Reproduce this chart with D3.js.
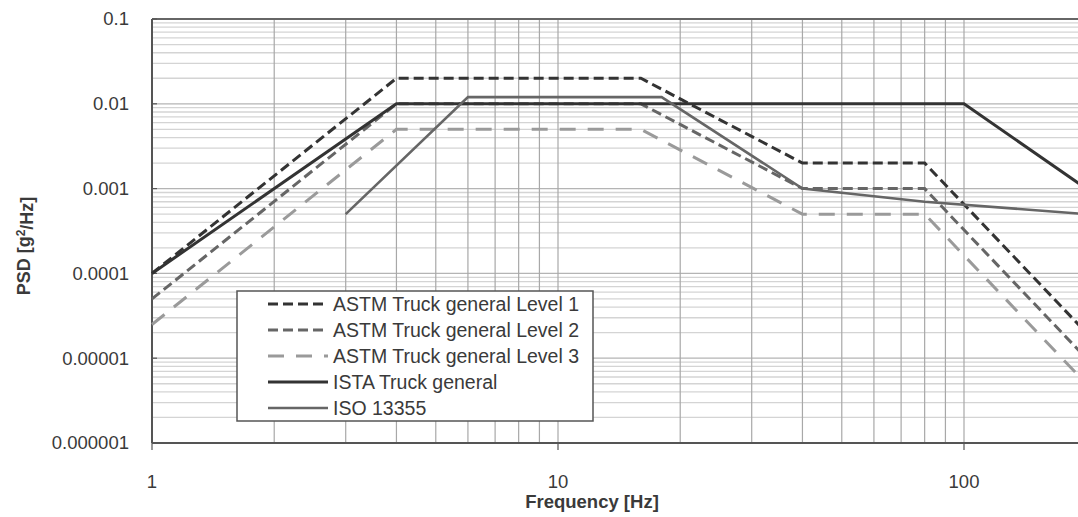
<!DOCTYPE html>
<html>
<head>
<meta charset="utf-8">
<script src="https://cdn.jsdelivr.net/npm/d3@7"></script>
<style>
  body { margin: 0; background: #fff; }
  text { font-family: "Liberation Sans", Arial, sans-serif; fill: #3a3a3a; }
</style>
</head>
<body>
<script>
// ASTM D4169 truck levels, ISTA truck, ISO 13355 (Hz / g^2/Hz)
var freqASTM = [1, 4, 16, 40, 80, 200];
var astmLevel1 = [0.0001, 0.02, 0.02, 0.002, 0.002, 0.00002];
var astmLevel2 = [0.00005, 0.01, 0.01, 0.001, 0.001, 0.00001];
var astmLevel3 = [0.000025, 0.005, 0.005, 0.0005, 0.0005, 0.000005];
var freqISTA = [1, 4, 100, 200];
var istaTruck = [0.0001, 0.01, 0.01, 0.001];
var freqISO = [3, 6, 18, 40, 80, 200];
var iso13355 = [0.0005, 0.012, 0.012, 0.001, 0.0007, 0.0005];

var seriesNames = ["ASTM Truck general Level 1", "ASTM Truck general Level 2",
    "ASTM Truck general Level 3", "ISTA Truck general", "ISO 13355"];
var xTicks = [1, 10, 100];
var xTickLabels = ["1", "10", "100"];
var yTicks = [0.1, 0.01, 0.001, 0.0001, 0.00001, 0.000001];
var yTickLabels = ["0.1", "0.01", "0.001", "0.0001", "0.00001", "0.000001"];

var width = 1078;
var height = 517;
var margin = { top: 19, left: 152, bottom: 74 };

var svg = d3.select("body")
    .append("svg")
    .attr("width", width)
    .attr("height", height);

// plot runs to 200 Hz, a bit past the right edge of the picture
var x = d3.scaleLog()
    .domain([1, 200])
    .range([margin.left, margin.left + 406 * Math.log10(200)]);
var y = d3.scaleLog()
    .domain([0.000001, 0.1])
    .range([height - margin.bottom, margin.top]);

var x0 = x.range()[0], x1 = x.range()[1];
var y0 = y.range()[0], y1 = y.range()[1];

function isDecade(v) {
    var l = Math.log10(v);
    return Math.abs(l - Math.round(l)) < 1e-9;
}

// horizontal grid
svg.append("g")
    .selectAll("line")
    .data(y.ticks())
    .enter()
    .append("line")
    .attr("x1", x0).attr("x2", x1)
    .attr("y1", function(d) { return y(d); })
    .attr("y2", function(d) { return y(d); })
    .attr("stroke", function(d) { return isDecade(d) ? "#b4b4b4" : "#d4d4d4"; })
    .attr("stroke-width", 1.3);

// vertical grid
svg.append("g")
    .selectAll("line")
    .data(x.ticks())
    .enter()
    .append("line")
    .attr("x1", function(d) { return x(d); })
    .attr("x2", function(d) { return x(d); })
    .attr("y1", y1).attr("y2", y0)
    .attr("stroke", "#a8a8a8")
    .attr("stroke-width", 1.2);

// frame
svg.append("line").attr("x1", x0).attr("x2", x1).attr("y1", y1).attr("y2", y1)
    .attr("stroke", "#666").attr("stroke-width", 2);
svg.append("line").attr("x1", x0).attr("x2", x1).attr("y1", y0).attr("y2", y0)
    .attr("stroke", "#555").attr("stroke-width", 2);
svg.append("line").attr("x1", x0).attr("x2", x0).attr("y1", y1).attr("y2", y0)
    .attr("stroke", "#555").attr("stroke-width", 2);

// ticks
svg.append("g").selectAll("line").data(xTicks).enter().append("line")
    .attr("x1", function(d) { return x(d); })
    .attr("x2", function(d) { return x(d); })
    .attr("y1", y0).attr("y2", y0 + 7)
    .attr("stroke", "#555").attr("stroke-width", 1.2);
svg.append("g").selectAll("line").data(yTicks).enter().append("line")
    .attr("x1", x0).attr("x2", x0 + 5)
    .attr("y1", function(d) { return y(d); })
    .attr("y2", function(d) { return y(d); })
    .attr("stroke", "#555").attr("stroke-width", 1.2);

// tick labels
svg.append("g").selectAll("text").data(xTicks).enter().append("text")
    .attr("x", function(d) { return x(d); })
    .attr("y", y0 + 45)
    .attr("text-anchor", "middle")
    .style("font-size", "18.5px")
    .text(function(d, i) { return xTickLabels[i]; });
svg.append("g").selectAll("text").data(yTicks).enter().append("text")
    .attr("x", 129)
    .attr("y", function(d) { return y(d); })
    .attr("dy", "0.35em")
    .attr("text-anchor", "end")
    .style("font-size", "18.5px")
    .text(function(d, i) { return yTickLabels[i]; });

// axis titles
svg.append("text")
    .attr("x", 592).attr("y", 508)
    .attr("text-anchor", "middle")
    .style("font-size", "18.5px").style("font-weight", "bold")
    .text("Frequency [Hz]");
var yt = svg.append("text")
    .attr("transform", "translate(30,246) rotate(-90)")
    .attr("text-anchor", "middle")
    .style("font-size", "18px").style("font-weight", "bold");
yt.append("tspan").text("PSD [g");
yt.append("tspan").attr("dy", "-0.45em").style("font-size", "12px").text("2");
yt.append("tspan").attr("dy", "0.45em").text("/Hz]");

// series
var series = [
    { name: seriesNames[0], f: freqASTM, v: astmLevel1, color: "#333", dash: "10,5", w: 3 },
    { name: seriesNames[1], f: freqASTM, v: astmLevel2, color: "#666", dash: "10,5", w: 3 },
    { name: seriesNames[2], f: freqASTM, v: astmLevel3, color: "#9a9a9a", dash: "16,12", w: 3 },
    { name: seriesNames[3], f: freqISTA, v: istaTruck, color: "#333", dash: null, w: 3 },
    { name: seriesNames[4], f: freqISO, v: iso13355, color: "#666", dash: null, w: 2.6 }
];

var line = d3.line()
    .x(function(d) { return x(d[0]); })
    .y(function(d) { return y(d[1]); });

svg.append("g")
    .selectAll("path")
    .data(series)
    .enter()
    .append("path")
    .attr("fill", "none")
    .attr("stroke", function(d) { return d.color; })
    .attr("stroke-width", function(d) { return d.w; })
    .attr("stroke-dasharray", function(d) { return d.dash; })
    .attr("d", function(d) { return line(d3.zip(d.f, d.v)); });

// legend
var legend = svg.append("g");
legend.append("rect")
    .attr("x", 237).attr("y", 291)
    .attr("width", 356).attr("height", 130)
    .attr("fill", "#fff")
    .attr("stroke", "#555")
    .attr("stroke-width", 1.5);

var leg = legend.selectAll("g.leg")
    .data(series)
    .enter()
    .append("g")
    .attr("class", "leg")
    .attr("transform", function(d, i) { return "translate(0," + (304 + i * 26) + ")"; });
leg.append("line")
    .attr("x1", 268).attr("x2", 328)
    .attr("stroke", function(d) { return d.color; })
    .attr("stroke-width", function(d) { return d.w; })
    .attr("stroke-dasharray", function(d) { return d.dash; });
leg.append("text")
    .attr("x", 333)
    .attr("dy", "0.35em")
    .style("font-size", "19.5px")
    .text(function(d) { return d.name; });
</script>
</body>
</html>
